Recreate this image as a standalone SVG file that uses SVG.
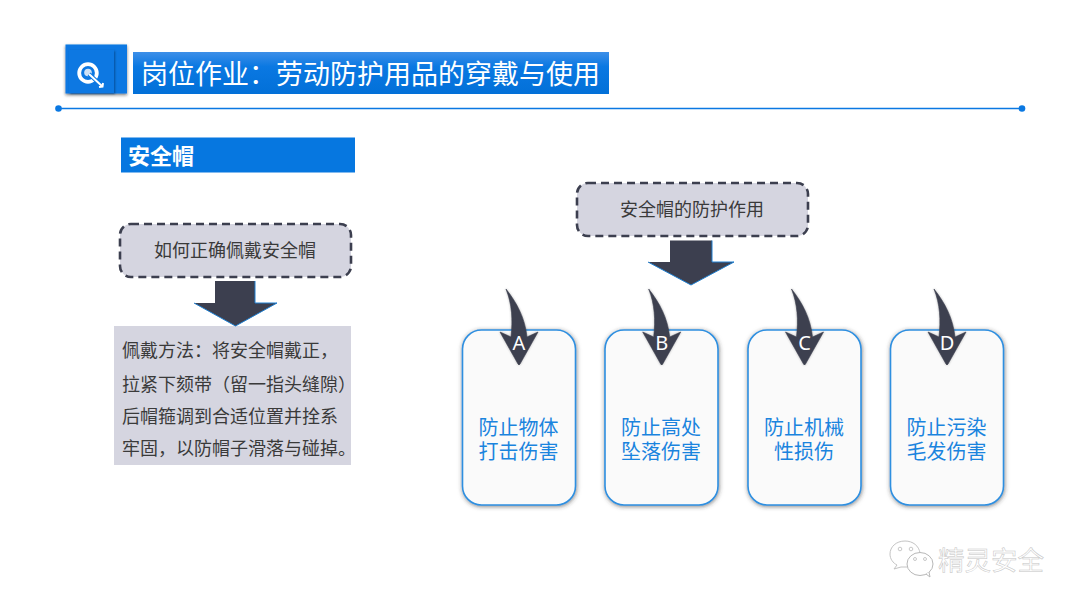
<svg xmlns="http://www.w3.org/2000/svg" width="1080" height="608" viewBox="0 0 1080 608">
<style>
text{font-family:"Noto Sans","Noto Sans CJK SC",sans-serif}
.cjk{font-family:"Liberation Sans","Noto Sans CJK SC",sans-serif}
.dash{fill:#d5d5e0;stroke:#3c3f4f;stroke-width:2.6;stroke-dasharray:8 5}
.t{font-size:18px;fill:#3a3a3a;text-anchor:middle}
.card{fill:#fafafa;stroke:#2e8fe0;stroke-width:1.6;filter:url(#sh)}
.cl{font-size:20px;fill:#1a84de;text-anchor:middle}
.arr{fill:#3c3f4f}
.edge{fill:none;stroke:#1f7fd0;stroke-width:1}
.curve{fill:#3c3f4f;stroke:#3c3f4f;stroke-width:.6;stroke-linejoin:round;filter:url(#sh2)}
.letter{font-size:20px;fill:#fff;text-anchor:middle}
.body{font-size:18px;fill:#3a3a3a}
</style>
<defs>
<linearGradient id="g" x1="0" y1="0" x2="0" y2="1"><stop offset="0" stop-color="#3d8fe8"/><stop offset=".35" stop-color="#0a78e2"/><stop offset="1" stop-color="#0270d8"/></linearGradient>
<filter id="sh" x="-15%" y="-15%" width="130%" height="130%"><feDropShadow dx="0.5" dy="1" stdDeviation="2" flood-color="#333" flood-opacity=".6"/></filter>
<filter id="sh2" x="-30%" y="-30%" width="160%" height="160%"><feDropShadow dx="0" dy="0" stdDeviation="1.2" flood-color="#333" flood-opacity=".35"/></filter>
<filter id="sh3" x="-20%" y="-20%" width="140%" height="140%"><feDropShadow dx="0" dy="1.5" stdDeviation="1.5" flood-color="#222" flood-opacity=".6"/></filter>
<filter id="sh4" x="-20%" y="-20%" width="140%" height="140%"><feDropShadow dx="1" dy="1" stdDeviation="1" flood-color="#033a78" flood-opacity=".7"/></filter>
<path id="ca" class="curve" d="M506 289C517 303 525 318 527 337L538 332L520 364Q519 366 518 364L500 332L511 337C513 320 512 304 506 289Z"/>
</defs>
<rect width="1080" height="608" fill="#fff"/>
<g id="header-icon">
<rect x="65.500" y="44.500" width="61.500" height="49" fill="#0a78e2" filter="url(#sh3)"/>
<rect x="69" y="50" width="45" height="43" fill="#0a78e2" filter="url(#sh4)"/>
<circle cx="88" cy="73" r="8.800" fill="none" stroke="#fff" stroke-width="3.800"/>
<circle cx="88" cy="72.500" r="3.800" fill="#cfe2f6"/>
<path d="M89 74L103 87" stroke="#0a78e2" stroke-width="4"/>
<path d="M89 74L103 87M99 87l3.500-.5 .5-3.500" stroke="#fff" stroke-width="2" fill="none"/>
</g>
<g id="title">
<rect x="133" y="52" width="476" height="42" fill="url(#g)"/>
<text class="cjk" x="141" y="84" font-size="27" fill="#fff">岗位作业：劳动防护用品的穿戴与使用</text>
</g>
<g id="rule">
<line x1="58" y1="108.500" x2="1022" y2="108.500" stroke="#0a78e2" stroke-width="1.600"/>
<circle cx="58.500" cy="108.500" r="3.300" fill="#0a78e2"/>
<circle cx="1022" cy="108.500" r="3.300" fill="#0a78e2"/>
</g>
<g id="section">
<rect x="121" y="137.500" width="234" height="35" fill="#0677e0"/>
<text class="cjk" x="128" y="164" font-size="22" font-weight="700" fill="#fff">安全帽</text>
</g>
<g id="how">
<rect class="dash" x="120" y="224" width="231" height="53" rx="11"/>
<text class="t cjk" x="235" y="257">如何正确佩戴安全帽</text>
</g>
<g id="method">
<rect x="114" y="326" width="237" height="139" fill="#d5d5e0"/>
<text class="body cjk" x="122" y="357">佩戴方法：将安全帽戴正，</text>
<text class="body cjk" x="122" y="391">拉紧下颏带（留一指头缝隙）</text>
<text class="body cjk" x="122" y="423">后帽箍调到合适位置并拴系</text>
<text class="body cjk" x="122" y="455">牢固，以防帽子滑落与碰掉。</text>
</g>
<g id="purpose">
<rect class="dash" x="577" y="183" width="231" height="53" rx="11"/>
<text class="t cjk" x="692" y="216">安全帽的防护作用</text>
</g>
<g id="card-a"><rect class="card" x="462.500" y="330" width="113" height="175" rx="19"/><text class="cl cjk" x="518.500" y="435">防止物体</text><text class="cl cjk" x="518.500" y="459">打击伤害</text></g>
<g id="card-b"><rect class="card" x="605" y="330" width="113" height="175" rx="19"/><text class="cl cjk" x="661" y="435">防止高处</text><text class="cl cjk" x="661" y="459">坠落伤害</text></g>
<g id="card-c"><rect class="card" x="748" y="330" width="113" height="175" rx="19"/><text class="cl cjk" x="804" y="435">防止机械</text><text class="cl cjk" x="804" y="459">性损伤</text></g>
<g id="card-d"><rect class="card" x="890.500" y="330" width="113" height="175" rx="19"/><text class="cl cjk" x="946.500" y="435">防止污染</text><text class="cl cjk" x="946.500" y="459">毛发伤害</text></g>
<g id="connectors">
<path class="arr" d="M215 281H255V303H277L235.500 326L194 303H215Z"/>
<path class="edge" d="M255 281V303H277L235.500 326L194 303"/>
<path class="arr" d="M670 240.500H712V262H734L691 285L648 262H670Z"/>
<path class="edge" d="M712 240.500V262H734L691 285L648 262"/>
<use href="#ca"/>
<use href="#ca" x="142.700"/>
<use href="#ca" x="285.500"/>
<use href="#ca" x="428"/>
</g>
<g id="letters">
<text class="letter" x="519" y="350">A</text>
<text class="letter" x="661.700" y="350">B</text>
<text class="letter" x="804.500" y="350">C</text>
<text class="letter" x="947" y="350">D</text>
</g>
<g id="watermark">
<path d="M905 541c-9 0-15 6-15 13 0 5 3 9 7 11l-3 4 7-2 6 0" fill="#fff" stroke="#c4c4c4" stroke-width="1"/>
<path d="M905 541c8 0 14 5 15 12" fill="none" stroke="#c4c4c4" stroke-width="1"/>
<ellipse cx="920" cy="564" rx="13" ry="11.500" fill="#fff" stroke="#b8b8b8" stroke-width="1"/>
<path d="M926 574l4 3 -1-5" fill="#fff" stroke="#b8b8b8" stroke-width="1"/>
<circle cx="900" cy="549" r="1.800" fill="none" stroke="#bbb" stroke-width=".8"/><circle cx="911" cy="549" r="1.800" fill="none" stroke="#bbb" stroke-width=".8"/>
<circle cx="915" cy="559" r="1.500" fill="none" stroke="#bbb" stroke-width=".8"/><circle cx="925" cy="559" r="1.500" fill="none" stroke="#bbb" stroke-width=".8"/>
<text class="cjk" x="938" y="570" font-size="26.500" fill="#fff" stroke="#c4c4c4" stroke-width=".5">精灵安全</text>
</g>
</svg>
